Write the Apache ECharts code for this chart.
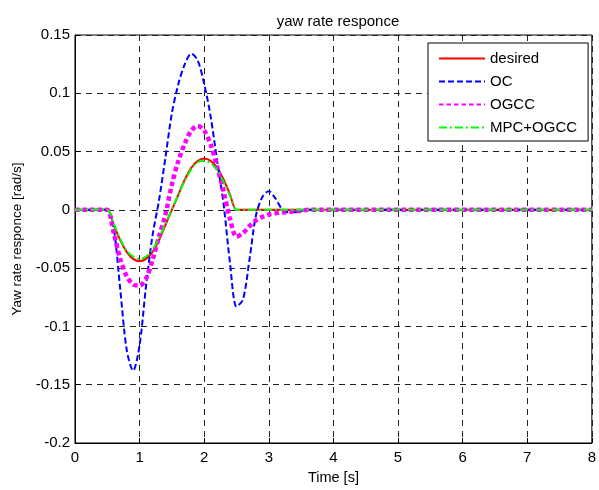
<!DOCTYPE html>
<html>
<head>
<meta charset="utf-8">
<script src="https://cdn.jsdelivr.net/npm/echarts@6/dist/echarts.min.js"></script>
<style>
  html, body { margin: 0; padding: 0; background: #fff; }
  #chart { width: 599px; height: 490px; }
</style>
</head>
<body>
<div id="chart"></div>
<script>
const time = [0, 0.1, 0.2, 0.3, 0.4, 0.5, 0.6, 0.7, 0.8, 0.9,
  1.0, 1.1, 1.2, 1.3, 1.4, 1.5, 1.6, 1.7, 1.8, 1.9,
  2.0, 2.1, 2.2, 2.3, 2.4, 2.5, 2.6, 2.7, 2.8, 2.9,
  3.0, 3.1, 3.2, 3.3, 3.4, 3.5, 3.6, 3.8, 4.0, 8.0]

const desired = [0, 0, 0, 0, 0, 0, -0.013, -0.026, -0.036, -0.042,
  -0.044, -0.042, -0.036, -0.026, -0.013, 0, 0.013, 0.026, 0.036, 0.042,
  0.044, 0.042, 0.036, 0.026, 0.013, 0, 0, 0, 0, 0,
  0, 0, 0, 0, 0, 0, 0, 0, 0, 0]

const oc = [0, 0, 0, 0, 0, 0, -0.016, -0.068, -0.120, -0.138,
  -0.116, -0.065, -0.022, 0.008, 0.045, 0.083, 0.108, 0.125, 0.134, 0.128,
  0.108, 0.080, 0.042, 0.005, -0.046, -0.083, -0.077, -0.043, -0.005, 0.011,
  0.016, 0.010, 0.001, -0.002, -0.002, -0.001, 0, 0, 0, 0]

const ogcc = [0, 0, 0, 0, 0, 0, -0.020, -0.042, -0.057, -0.064,
  -0.065, -0.059, -0.043, -0.023, -0.004, 0.022, 0.042, 0.057, 0.068, 0.072,
  0.068, 0.056, 0.037, 0.016, -0.008, -0.023, -0.020, -0.014, -0.009, -0.006,
  -0.004, -0.003, -0.002, -0.002, -0.001, -0.001, 0, 0, 0, 0]

const mpcOgcc = [0, 0, 0, 0, 0, 0, -0.012, -0.025, -0.035, -0.040,
  -0.042, -0.040, -0.034, -0.024, -0.012, 0.001, 0.013, 0.025, 0.035, 0.041,
  0.042, 0.040, 0.034, 0.024, 0.012, 0, 0, 0, 0, 0,
  0, 0, 0, 0, 0, 0, 0, 0, 0, 0]

const font = 'Liberation Sans, Arial, Helvetica, sans-serif'
const gridLine = { show: true, lineStyle: { color: '#222', width: 1, type: [6, 5] } }

const pairs = arr => time.map((t, i) => [t, arr[i]])

const chart = echarts.init(document.getElementById('chart'), null, { renderer: 'canvas' })

chart.setOption({
  animation: false,
  backgroundColor: '#fff',
  title: {
    text: 'yaw rate responce',
    left: 333, top: 9, textAlign: 'center',
    textStyle: { fontFamily: font, fontSize: 15, fontWeight: 'normal', color: '#000' }
  },
  grid: { left: 75, right: 6, top: 35, bottom: 44, show: true, borderColor: '#000', borderWidth: 1 },
  legend: {
    orient: 'vertical',
    left: 428, top: 43,
    padding: [8, 11, 6, 10],
    itemWidth: 46, itemHeight: 14, itemGap: 8,
    backgroundColor: '#fff',
    borderColor: '#000', borderWidth: 1,
    itemStyle: { opacity: 0 },
    textStyle: { fontFamily: font, fontSize: 15, color: '#000' },
    data: ['desired', 'OC', 'OGCC', 'MPC+OGCC']
  },
  xAxis: {
    type: 'value', min: 0, max: 8, interval: 1,
    name: 'Time [s]', nameLocation: 'middle', nameGap: 27,
    nameTextStyle: { fontFamily: font, fontSize: 14.5, color: '#000' },
    axisLine: { onZero: false, lineStyle: { color: '#000', width: 1 } },
    axisTick: { inside: true, length: 5, lineStyle: { color: '#000' } },
    axisLabel: { fontFamily: font, fontSize: 15, color: '#000', margin: 7 },
    splitLine: gridLine
  },
  yAxis: {
    type: 'value', min: -0.2, max: 0.15, interval: 0.05,
    name: 'Yaw rate responce [rad/s]', nameLocation: 'middle', nameGap: 51,
    nameTextStyle: { fontFamily: font, fontSize: 13.5, color: '#000' },
    axisLine: { show: true, onZero: false, lineStyle: { color: '#000', width: 1 } },
    axisTick: { show: true, inside: true, length: 5, lineStyle: { color: '#000' } },
    axisLabel: {
      fontFamily: font, fontSize: 15, color: '#000', margin: 5,
      formatter: v => String(+v.toFixed(2))
    },
    splitLine: gridLine
  },
  series: [
    {
      name: 'desired', type: 'line', data: pairs(desired), symbol: 'none', smooth: 0.3,
      lineStyle: { color: '#ff0000', width: 2 }, itemStyle: { color: '#ff0000' }
    },
    {
      name: 'OC', type: 'line', data: pairs(oc), symbol: 'none', smooth: 0.3,
      lineStyle: { color: '#0000ff', width: 2, type: [6, 3] }, itemStyle: { color: '#0000ff' }
    },
    {
      name: 'OGCC', type: 'line', data: pairs(ogcc), symbol: 'none', smooth: 0.3,
      lineStyle: { color: '#ff00ff', width: 4.5, type: [4.5, 3] }, itemStyle: { color: '#ff00ff' }
    },
    {
      name: 'MPC+OGCC', type: 'line', data: pairs(mpcOgcc), symbol: 'none', smooth: 0.3,
      lineStyle: { color: '#00ff00', width: 2, type: [8, 3, 2, 3] }, itemStyle: { color: '#00ff00' }
    }
  ]
})
</script>
</body>
</html>
